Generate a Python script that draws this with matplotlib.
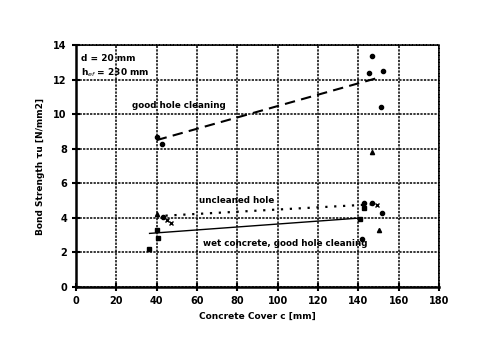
import matplotlib
matplotlib.use("Agg")
import matplotlib.pyplot as plt

# Measured bond strengths vs. concrete cover
good_x = [40, 42.5, 145.5, 147, 152, 151, 147]
good_y = [8.7, 8.3, 12.4, 13.35, 12.5, 10.4, 7.8]
good_m = ['o', 'o', 'o', 'o', 'o', 'o', '^']

unclean_x = [40, 43, 45, 47, 143, 147, 149, 143, 151.5]
unclean_y = [4.2, 4.05, 3.85, 3.7, 4.85, 4.85, 4.75, 4.55, 4.3]
unclean_m = ['^', 'o', 'x', 'x', 'o', 'o', 'x', 's', 'o']

wet_x = [36, 40, 40.5, 141, 150, 142]
wet_y = [2.2, 3.3, 2.85, 3.95, 3.3, 2.8]
wet_m = ['s', 's', 's', 's', '^', 'o']

# Regression lines (endpoints)
good_fit_x, good_fit_y = [40, 151], [8.5, 12.15]
unclean_fit_x, unclean_fit_y = [40, 150], [4.1, 4.8]
wet_fit_x, wet_fit_y = [36.5, 142], [3.1, 4.0]

x_ticks = [0, 20, 40, 60, 80, 100, 120, 140, 160, 180]
y_ticks = [0, 2, 4, 6, 8, 10, 12, 14]

plt.rcParams['font.family'] = ['DejaVu Sans']
fig = plt.figure(figsize=(4.9, 3.42), dpi=100)
ax = fig.add_axes([0.155, 0.161, 0.741, 0.707])

ax.set_xlim(0, 180)
ax.set_ylim(0, 14)
ax.set_xticks(x_ticks)
ax.set_yticks(y_ticks)
ax.grid(True, color='black', linestyle=(0, (1.5, 0.8)), linewidth=1.1)
ax.set_axisbelow(True)

for s in ['left', 'bottom']:
    ax.spines[s].set_linewidth(1.8)
for s in ['top', 'right']:
    ax.spines[s].set_linestyle((0, (1.5, 0.8)))
    ax.spines[s].set_linewidth(1.1)

ax.tick_params(direction='inout', length=6, width=1.5, labelsize=7)
for lab in ax.get_xticklabels() + ax.get_yticklabels():
    lab.set_fontweight('bold')

for xs, ys, ms in [(good_x, good_y, good_m), (unclean_x, unclean_y, unclean_m),
                   (wet_x, wet_y, wet_m)]:
    for x, y, m in zip(xs, ys, ms):
        ax.plot(x, y, marker=m, color='black', markersize=3, linestyle='none',
                markeredgewidth=1.0)

ax.plot(good_fit_x, good_fit_y, color='black', linestyle=(0, (5, 3)), linewidth=1.5)
ax.plot(unclean_fit_x, unclean_fit_y, color='black', linestyle=(0, (1, 3)), linewidth=1.6)
ax.plot(wet_fit_x, wet_fit_y, color='black', linestyle='-', linewidth=1.0)

ax.text(2.5, 13.2, 'd = 20 mm', fontsize=6.5, fontweight='bold', va='center')
ax.text(2.5, 12.4, 'h$_{ef}$ = 230 mm', fontsize=6.5, fontweight='bold', va='center')
ax.text(28, 10.5, 'good hole cleaning', fontsize=6.3, fontweight='bold', va='center')
ax.text(61, 5.0, 'uncleaned hole', fontsize=6.3, fontweight='bold', va='center')
ax.text(63, 2.5, 'wet concrete, good hole cleaning', fontsize=6.3,
        fontweight='bold', va='center')

ax.set_xlabel('Concrete Cover c [mm]', fontsize=6.5, fontweight='bold', labelpad=4)
ax.set_ylabel('Bond Strength τu [N/mm2]', fontsize=6.5, fontweight='bold', labelpad=6)

fig.savefig('out.png', dpi=100)
